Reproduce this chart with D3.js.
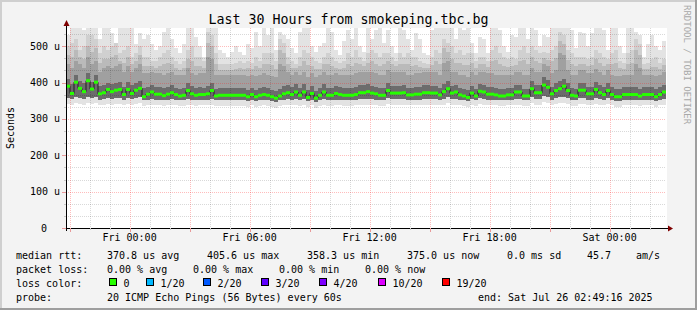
<!DOCTYPE html>
<html>
<head>
<meta charset="utf-8">
<script src="https://cdn.jsdelivr.net/npm/d3@7"></script>
<style>
  html, body { margin: 0; padding: 0; background: #f3f3f3; }
  svg { display: block; }
  text { font-family: "DejaVu Sans Mono", monospace; }
</style>
</head>
<body>
<div id="chart"></div>
<script>
// ---- data (values in microseconds, one entry per 12 min column) ----
const endTime = new Date(2025, 6, 26, 2, 49, 16);
const spanHours = 30;
const stepSec = 720;

const median = [
  390,370,401,384,375,405,382,401,369,372, 381,375,379,381,367,381,370,379,384,361,
  368,374,368,368,364,368,372,367,363,365, 378,369,365,367,367,369,378,363,365,365,
  365,365,365,365,365,361,367,361,365,367, 365,361,357,363,369,372,367,374,365,374,
  359,370,357,365,374,365,365,370,367,365, 365,365,367,372,372,375,371,369,365,365,
  378,371,371,371,372,366,366,368,368,372, 372,371,371,366,375,383,371,374,366,363,
  359,371,363,376,374,368,368,366,363,363, 366,366,374,374,363,363,383,372,372,393,
  387,369,378,383,390,378,365,363,379,379, 369,369,381,372,367,378,367,361,361,367,
  367,367,367,363,367,367,367,361,367,374
];
// max ping
const smokeTop = [
  530,550,550,550,545,550,550,550,520,550, 550,535,510,550,550,550,550,505,536,520,
  530,505,490,500,540,550,520,495,480,505, 550,550,525,500,470,550,550,550,490,480,
  470,485,500,485,475,505,495,540,500,550, 530,550,490,540,530,520,495,480,540,550,
  550,500,485,500,510,550,540,490,475,515, 545,520,550,500,485,550,520,545,550,510,
  545,500,480,550,545,520,490,535,520,480, 475,545,550,550,550,550,550,520,550,545,
  550,510,480,525,520,480,550,550,545,500, 485,530,525,550,550,520,550,545,500,530,
  525,550,550,550,550,550,545,495,540,535, 500,535,550,550,545,490,550,550,500,480,
  550,550,540,530,470,505,530,500,490,515
];
// ~85th percentile
const smokeHi = [
  500,510,520,490,500,530,530,520,480,500, 490,500,510,480,490,500,470,480,500,470,
  470,460,460,470,480,490,470,460,450,460, 490,500,470,470,460,540,530,480,450,450,
  450,450,455,460,455,460,455,470,460,480, 480,480,460,520,510,470,460,450,470,490,
  480,470,460,455,470,480,470,460,455,460, 480,470,490,470,460,480,490,480,470,480,
  480,470,460,480,470,480,470,470,460,455, 450,470,490,480,520,510,500,480,490,475,
  480,480,460,470,470,460,490,500,480,470, 465,470,465,490,500,480,500,490,480,485,
  480,490,500,540,530,490,480,470,470,470, 465,470,490,480,470,465,480,490,460,455,
  480,490,520,505,450,455,465,470,455,465
];
// ~78th percentile
const smokeMid = [
  475,470,490,470,465,500,485,495,455,465, 465,470,475,460,455,470,450,460,475,445,
  445,445,440,445,450,455,450,440,435,440, 465,460,445,445,440,510,500,450,435,435,
  435,435,437,440,438,440,438,445,440,452, 450,448,438,490,480,450,440,440,445,460,
  448,445,437,438,450,450,445,440,438,440, 450,445,455,450,445,455,460,452,445,450,
  458,450,445,452,450,452,445,448,442,440, 440,448,460,450,495,485,465,455,455,448,
  448,455,440,450,450,442,458,462,450,445, 443,446,448,460,462,450,470,460,455,468,
  462,458,468,515,505,462,450,445,452,452, 445,448,465,455,446,450,450,455,440,438,
  450,455,490,475,436,438,443,444,438,448
];
// ~70th percentile
const smokeCore = [
  450,440,460,450,440,470,450,460,430,440, 445,440,445,450,430,445,430,440,450,425,
  425,430,425,425,420,425,430,420,420,422, 440,425,422,425,425,470,465,420,422,422,
  420,420,420,422,422,418,422,418,420,425, 422,418,415,450,445,428,422,430,422,430,
  415,425,415,422,430,422,422,425,422,420, 420,422,425,428,428,430,428,425,422,422,
  435,428,428,428,428,422,422,425,425,428, 428,428,428,422,455,460,428,430,422,420,
  415,428,420,430,430,425,425,422,420,420, 422,422,430,430,420,420,440,430,430,450,
  445,425,435,480,475,435,422,420,435,435, 425,425,438,430,422,435,422,418,418,422,
  422,422,450,440,422,422,422,418,422,430
];
// ~55th percentile
const smokeDark = [
  410,395,420,405,398,425,402,420,390,392, 400,396,400,402,388,402,392,400,405,384,
  388,394,388,388,384,388,392,386,382,385, 398,390,385,387,386,390,398,382,384,384,
  384,384,384,385,385,380,386,380,384,387, 385,380,377,383,390,392,387,395,385,395,
  380,390,377,385,395,385,385,390,387,385, 385,385,387,392,392,395,391,389,385,385,
  398,391,391,391,392,386,386,388,388,392, 392,391,391,386,395,404,391,394,386,383,
  379,391,383,396,394,388,388,386,383,383, 386,386,394,394,383,383,404,392,392,414,
  408,389,398,404,411,398,385,383,399,399, 389,389,401,392,387,398,387,381,381,387,
  387,387,387,383,387,387,387,381,387,394
];
// ~10th percentile
const smokeLo = [
  357,355,360,357,355,361,357,359,353,355, 357,355,357,357,353,357,355,357,359,351,
  353,355,353,353,351,353,355,353,351,351, 355,353,351,353,353,353,355,351,351,351,
  351,351,351,351,351,349,353,349,351,353, 351,349,347,351,353,355,353,355,351,355,
  349,353,347,351,355,351,351,353,353,351, 351,351,353,355,355,355,355,353,351,351,
  357,355,355,355,355,353,353,353,353,355, 355,355,355,353,355,359,355,355,353,351,
  349,355,351,357,355,353,353,353,351,351, 353,353,355,355,351,351,359,355,355,363,
  361,353,357,359,361,357,351,351,357,357, 353,353,357,355,353,357,353,349,349,353,
  353,353,353,351,353,353,353,349,353,355
];
// min ping
const smokeBottom = [
  341,339,343,341,339,343,341,343,337,339, 341,339,341,341,337,341,339,341,343,335,
  337,339,337,337,335,337,339,337,335,335, 339,337,335,337,337,337,339,335,335,335,
  335,335,335,335,335,333,337,333,335,337, 335,333,331,335,337,339,337,339,335,339,
  333,337,331,335,339,335,335,337,337,335, 335,335,337,339,339,339,339,337,335,335,
  341,339,339,339,339,337,337,337,337,339, 339,339,339,337,339,343,339,339,337,335,
  333,339,335,341,339,337,337,337,335,335, 337,337,339,339,335,335,343,339,339,347,
  345,337,341,343,345,341,335,335,341,341, 337,337,341,339,337,341,337,333,333,337,
  337,337,337,335,337,337,337,333,337,339
];

const yTicks = [0, 100, 200, 300, 400, 500];
const yMax = 550;

const titleText = "Last 30 Hours from smokeping.tbc.bg";
const rttLegend = ["median rtt:", "370.8 us avg", "405.6 us max", "358.3 us min", "375.0 us now", "0.0 ms sd", "45.7", "am/s"];
const lossLegend = ["packet loss:", "0.00 % avg", "0.00 % max", "0.00 % min", "0.00 % now"];
const lossLabels = ["0", "1/20", "2/20", "3/20", "4/20", "10/20", "19/20"];
const lossColors = ["#26ff00", "#00b8ff", "#0059ff", "#5e00ff", "#7e00ff", "#dd00ff", "#ff0000"];
const probeLegend = ["probe:", "20 ICMP Echo Pings (56 Bytes) every 60s", "end: Sat Jul 26 02:49:16 2025"];

// ---- layout ----
const W = 697, H = 310;
const plot = { left: 66, right: 666, top: 28, bottom: 228 };

const svg = d3.select("#chart").append("svg")
    .attr("width", W)
    .attr("height", H);

// background + 3d frame
svg.append("rect").attr("width", W).attr("height", H).attr("fill", "#f3f3f3");
svg.append("rect").attr("x", 0).attr("y", 0).attr("width", W).attr("height", 2).attr("fill", "#cfcfcf");
svg.append("rect").attr("x", 0).attr("y", 0).attr("width", 2).attr("height", H).attr("fill", "#cfcfcf");
svg.append("rect").attr("x", 0).attr("y", H - 2).attr("width", W).attr("height", 2).attr("fill", "#9e9e9e");
svg.append("rect").attr("x", W - 2).attr("y", 0).attr("width", 2).attr("height", H).attr("fill", "#9e9e9e");

const startTime = new Date(endTime.getTime() - spanHours * 3600e3);
const x = d3.scaleTime().domain([startTime, endTime]).range([plot.left, plot.right]);
const y = d3.scaleLinear().domain([0, yMax]).range([plot.bottom, plot.top]);

// canvas
svg.append("rect")
    .attr("x", plot.left).attr("y", plot.top)
    .attr("width", plot.right - plot.left + 1).attr("height", plot.bottom - plot.top)
    .attr("fill", "#ffffff");

svg.append("clipPath").attr("id", "clip")
    .append("rect")
    .attr("x", plot.left).attr("y", plot.top)
    .attr("width", plot.right - plot.left).attr("height", plot.bottom - plot.top);

const cols = median.map((m, i) => ({
    t0: new Date(startTime.getTime() + i * stepSec * 1000),
    t1: new Date(startTime.getTime() + (i + 1) * stepSec * 1000),
    median: m,
    top: smokeTop[i],
    hi: smokeHi[i],
    mid: smokeMid[i],
    core: smokeCore[i],
    dark: smokeDark[i],
    lo: smokeLo[i],
    bottom: smokeBottom[i]
}));

// smoke bands, outermost first
const bands = [
    { low: "bottom", high: "top", color: "#e3e3e3" },
    { low: "lo", high: "hi", color: "#d0d0d0" },
    { low: "lo", high: "mid", color: "#bababa" },
    { low: "lo", high: "core", color: "#a0a0a0" },
    { low: "lo", high: "dark", color: "#6c6c6c" }
];

const smoke = svg.append("g").attr("clip-path", "url(#clip)");
bands.forEach(b => {
    smoke.append("g").selectAll("rect")
        .data(cols)
        .enter()
        .append("rect")
        .attr("x", d => x(d.t0))
        .attr("width", d => x(d.t1) - x(d.t0))
        .attr("y", d => y(d[b.high]))
        .attr("height", d => y(d[b.low]) - y(d[b.high]))
        .attr("fill", b.color)
        .attr("shape-rendering", "crispEdges");
});

// grid (drawn over the smoke, like rrdtool)
const minorGrid = { stroke: "#000000", opacity: 0.15 };
const majorGrid = { stroke: "#ff2020", opacity: 0.3 };
const grid = svg.append("g").attr("shape-rendering", "crispEdges");
const hours = d3.timeHour.range(d3.timeHour.ceil(startTime), endTime);
const yMinor = d3.range(0, yMax + 0.1, 100 / 3).filter(v => Math.abs(v / 100 - Math.round(v / 100)) > 0.01);

function vLines(data, style) {
    grid.append("g").selectAll("line")
        .data(data)
        .enter()
        .append("line")
        .attr("x1", d => Math.round(x(d)) + 0.5).attr("x2", d => Math.round(x(d)) + 0.5)
        .attr("y1", plot.top).attr("y2", plot.bottom)
        .attr("stroke", style.stroke).attr("stroke-opacity", style.opacity)
        .attr("stroke-dasharray", "1,1");
}
function hLines(data, style) {
    grid.append("g").selectAll("line")
        .data(data)
        .enter()
        .append("line")
        .attr("x1", plot.left).attr("x2", plot.right)
        .attr("y1", d => Math.round(y(d)) + 0.5).attr("y2", d => Math.round(y(d)) + 0.5)
        .attr("stroke", style.stroke).attr("stroke-opacity", style.opacity)
        .attr("stroke-dasharray", "1,1");
}
vLines(hours.filter(h => h.getHours() % 3 !== 0), minorGrid);
hLines(yMinor, minorGrid);
vLines(hours.filter(h => h.getHours() % 3 === 0), majorGrid);
hLines(yTicks.filter(v => v > 0), majorGrid);

// median: dark step line + loss-coloured markers
const stepPts = cols.map(d => [d.t0, d.median]).concat([[endTime, cols[cols.length - 1].median]]);
const medLine = d3.line()
    .x(d => x(d[0]))
    .y(d => y(d[1]))
    .curve(d3.curveStepAfter);

const med = svg.append("g").attr("clip-path", "url(#clip)");
med.append("path")
    .attr("d", medLine(stepPts))
    .attr("fill", "none")
    .attr("stroke", "#202020")
    .attr("stroke-width", 1);

med.selectAll(".med")
    .data(cols)
    .enter()
    .append("rect")
    .attr("x", d => x(d.t0))
    .attr("width", d => x(d.t1) - x(d.t0))
    .attr("y", d => y(d.median) - 1.5)
    .attr("height", 3)
    .attr("fill", lossColors[0]);

// axes
const axisColor = "#000000";
const arrowColor = "#7f0000";
svg.append("line")
    .attr("x1", plot.left - 4).attr("x2", plot.right + 2)
    .attr("y1", plot.bottom + 0.5).attr("y2", plot.bottom + 0.5)
    .attr("stroke", axisColor);
svg.append("line")
    .attr("x1", plot.left + 0.5).attr("x2", plot.left + 0.5)
    .attr("y1", plot.bottom + 3).attr("y2", plot.top - 4)
    .attr("stroke", axisColor);
svg.append("path")
    .attr("d", `M${plot.left + 0.5},${plot.top - 8} L${plot.left + 3.5},${plot.top - 2} L${plot.left - 2.5},${plot.top - 2} Z`)
    .attr("fill", arrowColor);
svg.append("path")
    .attr("d", `M${plot.right + 7},${plot.bottom + 0.5} L${plot.right + 2},${plot.bottom + 3.5} L${plot.right + 2},${plot.bottom - 2.5} Z`)
    .attr("fill", arrowColor);

// axis ticks
svg.append("g").attr("shape-rendering", "crispEdges").selectAll("line")
    .data(hours)
    .enter()
    .append("line")
    .attr("x1", d => Math.round(x(d)) + 0.5).attr("x2", d => Math.round(x(d)) + 0.5)
    .attr("y1", plot.bottom)
    .attr("y2", d => plot.bottom + (d.getHours() % 3 === 0 ? 4 : 2))
    .attr("stroke", d => d.getHours() % 3 === 0 ? "#e89a9a" : "#c8c8c8");

svg.append("g").attr("shape-rendering", "crispEdges").selectAll("line")
    .data(yTicks.concat(yMinor))
    .enter()
    .append("line")
    .attr("x1", d => plot.left - (yTicks.includes(d) ? 4 : 2)).attr("x2", plot.left)
    .attr("y1", d => Math.round(y(d)) + 0.5).attr("y2", d => Math.round(y(d)) + 0.5)
    .attr("stroke", d => yTicks.includes(d) ? "#e89a9a" : "#c8c8c8");

// tick labels
const fmtTime = d3.timeFormat("%a %H:%M");
svg.append("g").selectAll("text")
    .data(hours.filter(h => h.getHours() % 6 === 0))
    .enter()
    .append("text")
    .attr("x", d => x(d))
    .attr("y", 241)
    .attr("text-anchor", "middle")
    .attr("font-size", "10px")
    .attr("fill", "#000")
    .text(d => fmtTime(d));

svg.append("g").selectAll("text")
    .data(yTicks)
    .enter()
    .append("text")
    .attr("x", d => d === 0 ? 47 : 60)
    .attr("y", d => y(d) + 3.5)
    .attr("text-anchor", "end")
    .attr("font-size", "10px")
    .attr("fill", "#000")
    .text(d => d === 0 ? "0" : d + " u");

// title, axis title, watermark
svg.append("text")
    .attr("x", W / 2).attr("y", 24)
    .attr("text-anchor", "middle")
    .attr("font-size", "13.3px")
    .attr("fill", "#000")
    .text(titleText);

svg.append("text")
    .attr("transform", `translate(14,${(plot.top + plot.bottom) / 2}) rotate(-90)`)
    .attr("text-anchor", "middle")
    .attr("font-size", "10px")
    .attr("fill", "#000")
    .text("Seconds");

svg.append("text")
    .attr("transform", "translate(684,5) rotate(90)")
    .attr("font-size", "9px")
    .attr("fill", "#a8a8a8")
    .text("RRDTOOL / TOBI OETIKER");

// legend
const legend = svg.append("g").attr("font-size", "10px").attr("fill", "#000");
const rttX = [16, 107, 207, 307, 407, 507, 587, 636];
const lossX = [16, 107, 193, 279, 365];
const boxX = [109, 146, 203, 261, 319, 378, 442];
const probeX = [16, 107, 478];

rttLegend.forEach((t, i) => legend.append("text").attr("x", rttX[i]).attr("y", 259).text(t));
lossLegend.forEach((t, i) => legend.append("text").attr("x", lossX[i]).attr("y", 273).text(t));
legend.append("text").attr("x", 16).attr("y", 287).text("loss color:");
lossLabels.forEach((t, i) => {
    legend.append("rect")
        .attr("x", boxX[i] + 0.5).attr("y", 278.5)
        .attr("width", 7).attr("height", 7)
        .attr("fill", lossColors[i])
        .attr("stroke", "#000");
    legend.append("text").attr("x", boxX[i] + 14.5).attr("y", 287).text(t);
});
probeLegend.forEach((t, i) => legend.append("text").attr("x", probeX[i]).attr("y", 301).text(t));
</script>
</body>
</html>
